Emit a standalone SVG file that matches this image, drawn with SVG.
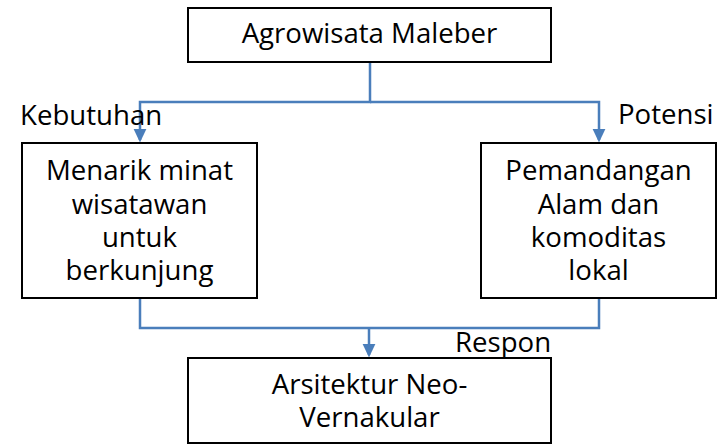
<svg xmlns="http://www.w3.org/2000/svg" width="725" height="445" viewBox="0 0 725 445">
<defs>
<style>
.box{fill:#fff;stroke:#000;stroke-width:2}
.t{font-family:"Open Sans","Noto Sans","DejaVu Sans",sans-serif;font-size:27.6px;fill:#000}
.c{text-anchor:middle}
.ln{fill:none;stroke:#4a7ebb;stroke-width:2.5}
</style>
<marker id="ah" markerWidth="5.5" markerHeight="6" refX="4.5" refY="3" orient="auto" markerUnits="strokeWidth" viewBox="0 0 5.5 6">
<path d="M0,0.4 L5.5,3 L0,5.6 Z" fill="#4a7ebb"/>
</marker>
</defs>
<rect width="725" height="445" fill="#fff"/>
<g id="connectors">
<path class="ln" d="M370,62 V102 H140 V140" marker-end="url(#ah)"/>
<path class="ln" d="M370,102 H599 V140" marker-end="url(#ah)"/>
<path class="ln" d="M140,298 V328 H599 V298"/>
<path class="ln" d="M369,328 V355" marker-end="url(#ah)"/>
<text class="t" x="20" y="125">Kebutuhan</text>
<text class="t" x="618" y="124">Potensi</text>
<text class="t" x="455" y="352">Respon</text>
</g>
<g id="agrowisata">
<rect class="box" x="188" y="8" width="363" height="54"/>
<text class="t c" x="369.5" y="43">Agrowisata Maleber</text>
</g>
<g id="menarik">
<rect class="box" x="22" y="143" width="235" height="155"/>
<text class="t c" x="139.5" y="180">Menarik minat<tspan x="139.5" dy="33.5">wisatawan</tspan><tspan x="139.5" dy="33.5">untuk</tspan><tspan x="139.5" dy="33">berkunjung</tspan></text>
</g>
<g id="pemandangan">
<rect class="box" x="481" y="143" width="235" height="155"/>
<text class="t c" x="598.5" y="180">Pemandangan<tspan x="598.5" dy="33.5">Alam dan</tspan><tspan x="598.5" dy="33.5">komoditas</tspan><tspan x="598.5" dy="33">lokal</tspan></text>
</g>
<g id="arsitektur">
<rect class="box" x="188" y="358" width="363" height="85"/>
<text class="t c" x="369.5" y="394">Arsitektur Neo-<tspan x="369.5" dy="33">Vernakular</tspan></text>
</g>
</svg>
